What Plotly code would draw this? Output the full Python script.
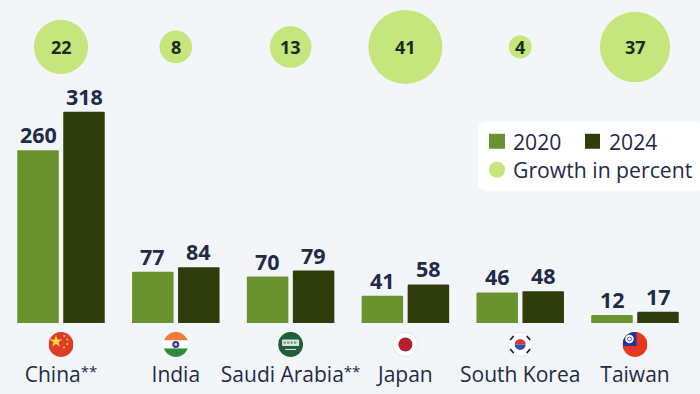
import base64
import plotly.graph_objects as go

STAR = '<span style="font-size:15px;baseline-shift:5px">**</span>'
countries = ["China" + STAR, "India", "Saudi Arabia" + STAR, "Japan", "South Korea", "Taiwan"]
values_2020 = [260, 77, 70, 41, 46, 12]
values_2024 = [318, 84, 79, 58, 48, 17]
growth = [22, 8, 13, 41, 4, 37]

W, H = 700, 394
BASE = 323.5
C_2020, C_2024, C_GROWTH = "#6a922e", "#2f3d0c", "#c4e67c"
BG, INK = "#f3f6f9", "#1f2b47"
FONT = "Open Sans, sans-serif"

clip = '<clipPath id="c"><circle cx="50" cy="50" r="50"/></clipPath>'
flag_bodies = [
    '<rect width="100" height="100" fill="#de3b2a"/><polygon fill="#ffd83a" points="30,12 36,30 55,30 40,41 46,59 30,48 14,59 20,41 5,30 24,30"/><g fill="#ffd83a"><circle cx="63" cy="16" r="4"/><circle cx="75" cy="30" r="4"/><circle cx="75" cy="48" r="4"/><circle cx="62" cy="62" r="4"/></g>',
    '<rect width="100" height="34" fill="#ef7d33"/><rect y="34" width="100" height="32" fill="#fff"/><rect y="66" width="100" height="34" fill="#2f8a3c"/><circle cx="50" cy="50" r="14" fill="#2d3a8c"/><circle cx="50" cy="50" r="6" fill="#cfd3ea"/>',
    '<rect width="100" height="100" fill="#1f5f3c"/><rect x="16" y="30" width="68" height="26" rx="3" fill="#d8e6dc"/><g fill="#6f9a82"><rect x="22" y="38" width="9" height="9"/><rect x="36" y="38" width="9" height="9"/><rect x="50" y="38" width="9" height="9"/><rect x="64" y="38" width="9" height="9"/></g><rect x="28" y="68" width="44" height="4" fill="#d8e6dc"/>',
    '<rect width="100" height="100" fill="#e6e8ec"/><circle cx="50" cy="50" r="46" fill="#fff"/><circle cx="50" cy="50" r="28" fill="#b5202f"/>',
    '<rect width="100" height="100" fill="#e6e8ec"/><circle cx="50" cy="50" r="46" fill="#fff"/><path d="M28 50a22 22 0 0 1 44 0z" fill="#cf3a45"/><path d="M28 50a22 22 0 0 0 44 0z" fill="#2f4fa8"/><g stroke="#222" stroke-width="7"><path d="M10 32l14-16M76 16l14 16M10 68l14 16M76 84l14-16"/></g>',
    '<rect width="100" height="100" fill="#e5391f"/><rect width="56" height="56" fill="#2233a0"/><circle cx="28" cy="28" r="17" fill="#fff"/><circle cx="28" cy="28" r="9" fill="#2233a0"/><circle cx="28" cy="28" r="6" fill="#fff"/>',
]


def flag_uri(body):
    svg = ('<svg xmlns="http://www.w3.org/2000/svg" viewBox="0 0 100 100">'
           f'<defs>{clip}</defs><g clip-path="url(#c)">{body}</g></svg>')
    return "data:image/svg+xml;base64," + base64.b64encode(svg.encode()).decode()


def px_x(x):
    return x / W


def px_y(y):
    return (BASE - y) / BASE


PER_CAT = 114.8
PER_UNIT = 0.665
idx = list(range(len(countries)))
BARGAP, GROUPGAP = 0.1986, 0.098
slot = (1 - BARGAP) / 2
bubble_y = (BASE - 47) / PER_UNIT

fig = go.Figure()
for name, vals, col in [("2020", values_2020, C_2020), ("2024", values_2024, C_2024)]:
    fig.add_bar(x=idx, y=vals, name=name, marker=dict(color=col, cornerradius=1, line_width=0))

fig.add_scatter(x=idx, y=[bubble_y] * len(idx), mode="markers", name="Growth in percent",
                marker=dict(size=growth, sizemode="area", sizeref=2 / 11.55 ** 2, color=C_GROWTH, line_width=0, opacity=1),
                cliponaxis=False)

images = [dict(source=flag_uri(b), xref="x", yref="paper", x=i, y=px_y(345),
               sizex=25 / PER_CAT, sizey=25 / BASE, xanchor="center", yanchor="middle",
               sizing="contain", layer="above") for i, b in enumerate(flag_bodies)]

r = 9
x0, x1, y0, y1 = px_x(478), px_x(704), px_y(191), px_y(122)
rx, ry = r / W, r / BASE
shapes = [
    dict(type="path", xref="paper", yref="paper", line_width=0, fillcolor="#ffffff",
         path=f"M{x0+rx},{y0} L{x1-rx},{y0} Q{x1},{y0} {x1},{y0+ry} L{x1},{y1-ry} Q{x1},{y1} {x1-rx},{y1} "
              f"L{x0+rx},{y1} Q{x0},{y1} {x0},{y1-ry} L{x0},{y0+ry} Q{x0},{y0} {x0+rx},{y0} Z"),
    dict(type="rect", xref="paper", yref="paper", line_width=0, fillcolor=C_2020,
         x0=px_x(489), x1=px_x(505), y0=px_y(149), y1=px_y(134)),
    dict(type="rect", xref="paper", yref="paper", line_width=0, fillcolor=C_2024,
         x0=px_x(585), x1=px_x(600), y0=px_y(149), y1=px_y(134)),
    dict(type="circle", xref="paper", yref="paper", line_width=0, fillcolor=C_GROWTH,
         x0=px_x(489), x1=px_x(505), y0=px_y(178), y1=px_y(162)),
]
annotations = [
    dict(text=t, xref="paper", yref="paper", x=px_x(x), y=px_y(y), xanchor="left", yanchor="middle",
         showarrow=False, font=dict(family=FONT, size=21.2, color=INK))
    for t, x, y in [("2020", 511, 142), ("2024", 607, 142), ("Growth in percent", 511, 170)]
]
for i in idx:
    for vals, off in [(values_2020, -slot / 2), (values_2024, slot / 2)]:
        annotations.append(dict(text=f"<b>{vals[i]}</b>", x=i + off, y=vals[i], xref="x", yref="y",
                                xanchor="center", yanchor="bottom", showarrow=False, yshift=-1,
                                font=dict(family=FONT, size=21.5, color=INK)))
    annotations.append(dict(text=f"<b>{growth[i]}</b>", x=i, y=bubble_y, xref="x", yref="y",
                            xanchor="center", yanchor="middle", showarrow=False,
                            font=dict(family=FONT, size=18, color="#1b2b22")))

fig.update_layout(
    width=W, height=H, barmode="group", bargap=BARGAP, bargroupgap=GROUPGAP,
    margin=dict(l=0, r=0, t=0, b=H - BASE, pad=0), showlegend=False,
    paper_bgcolor=BG, plot_bgcolor=BG, images=images, shapes=shapes, annotations=annotations,
    font=dict(family=FONT, color=INK),
    xaxis=dict(range=[-61 / PER_CAT, (W - 61) / PER_CAT], tickmode="array", tickvals=idx, ticktext=countries,
               showgrid=False, zeroline=False, showline=False, ticks="outside", ticklen=33,
               tickcolor="rgba(0,0,0,0)", tickfont=dict(family=FONT, size=21, color=INK)),
    yaxis=dict(range=[0, BASE / PER_UNIT], visible=False),
)
fig.write_html("out.html", config={"displayModeBar": False},
               post_script="document.body.style.margin='0';document.documentElement.style.overflow='hidden';")
